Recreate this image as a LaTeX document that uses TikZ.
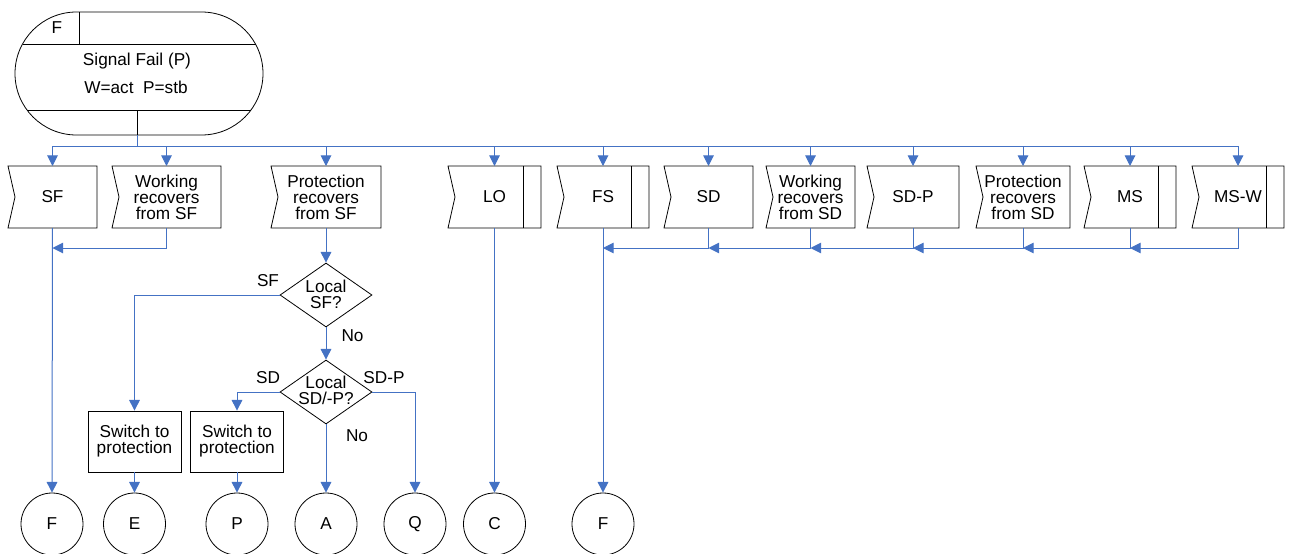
\documentclass[tikz,border=0pt]{standalone}
\usepackage{fontspec}
\setmainfont{Liberation Sans}
\usetikzlibrary{arrows.meta,shapes.geometric,calc}
\definecolor{lblue}{RGB}{68,114,196}
\newcommand\sigbox[4]{%
  \node[sig, minimum width={(#3-#2)*0.75pt}] (#1) at ({(#2+#3)/2},197) {#4};
  \draw[ol] (#1.north west) -- (#1.north east) -- (#1.south east) -- (#1.south west) -- ([xshift=5.25pt]#1.west) -- cycle;}
\newcommand\barline[1]{\draw[ol] ([xshift=-13.5pt]#1.north east) -- ([xshift=-13.5pt]#1.south east);}
\begin{document}
\begin{tikzpicture}[x=0.75pt,y=-0.75pt,
  every node/.style={font=\fontsize{12.9pt}{12pt}\selectfont},
  ol/.style={draw=black, line width=0.6pt},
  ln/.style={draw=lblue, line width=0.75pt},
  arr/.style={ln, -{Triangle[length=8pt,width=8pt]}},
  sig/.style={inner sep=0pt, outer sep=0pt, minimum height=46.5pt, align=center},
  txt/.style={inner sep=0pt, align=center},
  sw/.style={draw, line width=0.6pt, inner sep=0pt, minimum width=69.75pt, minimum height=45.75pt, align=center},
  dia/.style={draw, diamond, line width=0.6pt, inner sep=0pt, minimum width=69pt, minimum height=48pt},
  term/.style={draw, circle, line width=0.6pt, inner sep=0pt, minimum size=46.5pt}]
\useasboundingbox (0,0) rectangle (1291,553);
\clip (0,0) rectangle (1291,553);
% top state
\node[draw, line width=0.6pt, inner sep=0pt, minimum width=186pt, minimum height=92.25pt, rounded corners=46.1pt] (st) at (139,73.5) {};
\draw[ol] (22.5,44) -- (255.5,44);
\draw[ol] (27,110) -- (251,110);
\draw[ol] (79,12) -- (79,44);
\draw[ol] (137,110) -- (137,135);
\node[txt] (stF) at (57,28) {F};
\node[txt] (stT1) at (137,61.5) {Signal Fail (P)};
\node[txt] (stT2) at (136,87) {W=act\ \ P=stb};
\coordinate (stout) at (137,135);
\coordinate (busy) at (0,146);
\coordinate (my) at (0,248);
% boxes
\sigbox{sf}{8}{97}{SF}
\sigbox{wsf}{112}{221}{Working\\recovers\\from SF}
\sigbox{psf}{271}{381}{Protection\\recovers\\from SF}
\sigbox{lo}{448}{541}{LO}\barline{lo}
\sigbox{fs}{557}{649}{FS}\barline{fs}
\sigbox{sd}{664}{753}{SD}
\sigbox{wsd}{766}{855}{Working\\recovers\\from SD}
\sigbox{sdp}{867}{959}{SD-P}
\sigbox{psd}{976}{1070}{Protection\\recovers\\from SD}
\sigbox{ms}{1084}{1176}{MS}\barline{ms}
\sigbox{msw}{1192}{1284}{MS-W}\barline{msw}
% bus
\draw[ln] (stout) -- (stout |- busy);
\draw[ln] (sf.north |- busy) -- (msw.north |- busy);
\foreach \n in {sf,wsf,psf,lo,fs,sd,wsd,sdp,psd,ms,msw}
  \draw[arr] (\n.north |- busy) -- (\n.north);
% decisions
\node[dia] (d1) at (326,295) {};
\node[txt] (d1t) at (326,294) {Local\\SF?};
\node[dia] (d2) at (326,392) {};
\node[txt] (d2t) at (326,390) {Local\\SD/-P?};
\node[sw] (sw1) at (134.5,441.5) {Switch to\\protection};
\node[sw] (sw2) at (237,441.5) {Switch to\\protection};
% terminals
\node[term] (cf1) at (52,524) {F};
\node[term] (ce) at (134.5,524) {E};
\node[term] (cp) at (237,524) {P};
\node[term] (ca) at (326,524) {A};
\node[term] (cq) at (415,524) {Q};
\node[term] (cc) at (494.5,524) {C};
\node[term] (cf2) at (603,524) {F};
% labels
\node[txt] (lsf) at (268,281) {SF};
\node[txt] (lno1) at (352.5,336) {No};
\node[txt] (lsd) at (268,378) {SD};
\node[txt] (lsdp) at (384,378) {SD-P};
\node[txt] (lno2) at (357,436) {No};
% connectors
\draw[arr] (sf.south) -- (cf1.north);
\draw[arr] (wsf.south) -- (wsf.south |- my) -- (sf.south |- my);
\draw[arr] (psf.south) -- (d1.north);
\draw[arr] (d1.west) -- (sw1.north |- d1.west) -- (sw1.north);
\draw[arr] (d1.south) -- (d2.north);
\draw[arr] (d2.west) -- (sw2.north |- d2.west) -- (sw2.north);
\draw[arr] (d2.east) -- (cq.north |- d2.east) -- (cq.north);
\draw[arr] (d2.south) -- (ca.north);
\draw[arr] (sw1.south) -- (ce.north);
\draw[arr] (sw2.south) -- (cp.north);
\draw[arr] (lo.south) -- (cc.north);
\draw[arr] (fs.south) -- (cf2.north);
\draw[arr] (sd.south) -- (sd.south |- my) -- (fs.south |- my);
\draw[arr] (wsd.south) -- (wsd.south |- my) -- (sd.south |- my);
\draw[arr] (sdp.south) -- (sdp.south |- my) -- (wsd.south |- my);
\draw[arr] (psd.south) -- (psd.south |- my) -- (sdp.south |- my);
\draw[arr] (ms.south) -- (ms.south |- my) -- (psd.south |- my);
\draw[arr] (msw.south) -- (msw.south |- my) -- (ms.south |- my);
\end{tikzpicture}
\end{document}
